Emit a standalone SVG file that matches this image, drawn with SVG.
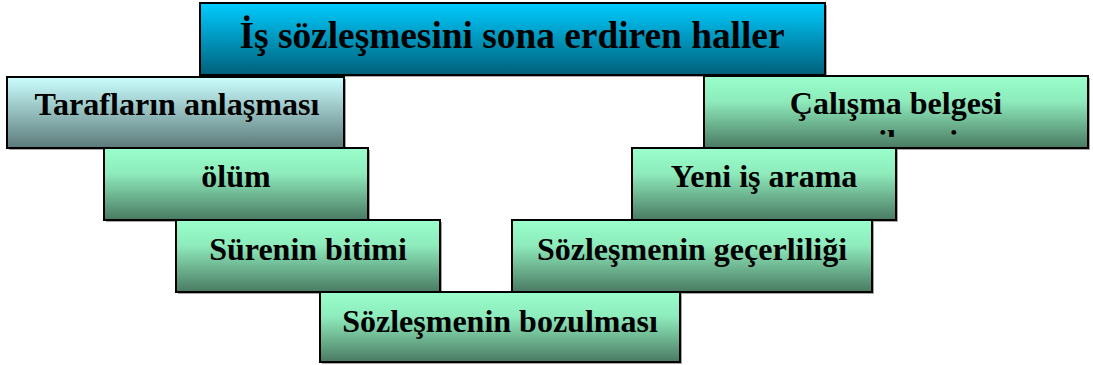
<svg xmlns="http://www.w3.org/2000/svg" width="1093" height="365" viewBox="0 0 1093 365">
<defs>
<linearGradient id="gTitle" x1="0" y1="0" x2="0" y2="1"><stop offset="0" stop-color="#00CCFF"/><stop offset="1" stop-color="#00607A"/></linearGradient>
<linearGradient id="gCyan" x1="0" y1="0" x2="0" y2="1"><stop offset="0" stop-color="#CCFFFF"/><stop offset="1" stop-color="#5C7A7A"/></linearGradient>
<linearGradient id="gGreen" x1="0" y1="0" x2="0" y2="1"><stop offset="0" stop-color="#99FFCC"/><stop offset="0.35" stop-color="#8EEBBC"/><stop offset="1" stop-color="#4A7A62"/></linearGradient>
<clipPath id="clipCal"><rect x="704" y="76" width="384" height="61"/></clipPath>
<style>
.box{stroke:#000;stroke-width:2}
.sh{fill:#a8a8a8}
.t{font-family:"Liberation Serif","Times New Roman",serif;font-weight:bold;fill:#000;text-anchor:middle}
.lv{font-size:32px}
.tt{font-size:37px}
</style>
</defs>
<g id="title">
<rect class="sh" x="202" y="5" width="625" height="72"/>
<rect class="box" x="200" y="3" width="625" height="72" fill="url(#gTitle)"/>
<text class="t tt" x="512" y="48" textLength="545" lengthAdjust="spacingAndGlyphs">İş sözleşmesini sona erdiren haller</text>
</g>
<g id="taraflarin">
<rect class="sh" x="9" y="79" width="337" height="71"/>
<rect class="box" x="7" y="77" width="337" height="71" fill="url(#gCyan)"/>
<text class="t lv" x="177" y="115" textLength="285" lengthAdjust="spacingAndGlyphs">Tarafların anlaşması</text>
</g>
<g id="calisma">
<rect class="sh" x="706" y="78" width="384" height="72"/>
<rect class="box" x="704" y="76" width="384" height="72" fill="url(#gGreen)"/>
<text class="t lv" x="896" y="114">Çalışma belgesi</text>
<text class="t lv" x="896" y="152" clip-path="url(#clipCal)">verilmesi</text>
</g>
<g id="olum">
<rect class="sh" x="106" y="150" width="264" height="72"/>
<rect class="box" x="104" y="148" width="264" height="72" fill="url(#gGreen)"/>
<text class="t lv" x="236" y="187">ölüm</text>
</g>
<g id="yeni">
<rect class="sh" x="634" y="150" width="264" height="72"/>
<rect class="box" x="632" y="148" width="264" height="72" fill="url(#gGreen)"/>
<text class="t lv" x="764" y="187">Yeni iş arama</text>
</g>
<g id="surenin">
<rect class="sh" x="178" y="222" width="264" height="72"/>
<rect class="box" x="176" y="220" width="264" height="72" fill="url(#gGreen)"/>
<text class="t lv" x="308" y="260">Sürenin bitimi</text>
</g>
<g id="gecerlilik">
<rect class="sh" x="514" y="222" width="360" height="72"/>
<rect class="box" x="512" y="220" width="360" height="72" fill="url(#gGreen)"/>
<text class="t lv" x="692" y="260">Sözleşmenin geçerliliği</text>
</g>
<g id="bozulma">
<rect class="sh" x="322" y="294" width="360" height="70"/>
<rect class="box" x="320" y="292" width="360" height="70" fill="url(#gGreen)"/>
<text class="t lv" x="500" y="332">Sözleşmenin bozulması</text>
</g>
<g id="connectors"/>
</svg>
